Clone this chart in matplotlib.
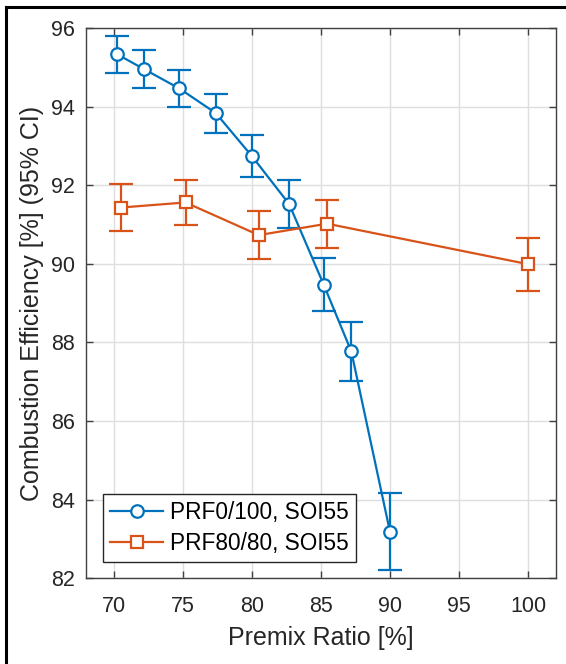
import numpy as np
import matplotlib.pyplot as plt
from matplotlib.lines import Line2D

plt.rcParams['font.family'] = ['Liberation Sans', 'DejaVu Sans']

# Dados
x_prf0 = [70.25, 72.2, 74.75, 77.4, 80.0, 82.7, 85.2, 87.2, 90.0]
y_prf0 = [95.33, 94.95, 94.46, 93.83, 92.74, 91.52, 89.47, 87.77, 83.18]
e_prf0 = [0.47, 0.48, 0.48, 0.50, 0.53, 0.60, 0.68, 0.75, 0.98]

x_prf80 = [70.5, 75.2, 80.5, 85.45, 100.0]
y_prf80 = [91.43, 91.56, 90.73, 91.02, 89.99]
e_prf80 = [0.60, 0.58, 0.62, 0.61, 0.67]

labels = ['PRF0/100, SOI55', 'PRF80/80, SOI55']
xticks = [70, 75, 80, 85, 90, 95, 100]
yticks = [82, 84, 86, 88, 90, 92, 94, 96]

blue = '#0072BD'
orange = '#D95319'

fig = plt.figure(figsize=(5.66, 6.64), dpi=100)
ax = fig.add_axes([0.152, 0.129, 0.830, 0.829])

estilo = dict(lw=1.6, mfc='white', mew=1.6, capsize=8.5, capthick=1.6,
              elinewidth=1.6, zorder=3)
ax.errorbar(x_prf0, y_prf0, yerr=e_prf0, color=blue, marker='o', ms=9,
            mec=blue, **estilo)
ax.errorbar(x_prf80, y_prf80, yerr=e_prf80, color=orange, marker='s', ms=8.5,
            mec=orange, **estilo)

ax.set_xlim(68, 102)
ax.set_ylim(82, 96)
ax.set_xticks(xticks)
ax.set_yticks(yticks)
ax.grid(True, color='#dedede', lw=1.0)
ax.set_axisbelow(True)
ax.tick_params(direction='in', top=True, right=True, length=5, width=1,
               color='#404040', labelsize=15.5, labelcolor='#262626', pad=8)
ax.tick_params(axis='x', pad=13)
for s in ax.spines.values():
    s.set_color('#404040')
    s.set_linewidth(1.0)

ax.set_xlabel('Premix Ratio [%]', fontsize=18, color='#262626', labelpad=6)
ax.set_ylabel('Combustion Efficiency [%] (95% CI)', fontsize=18,
              color='#262626', labelpad=5)

# legenda só com linha + marcador (sem barra de erro)
h = [Line2D([], [], color=blue, lw=1.6, marker='o', ms=9, mfc='white', mew=1.6),
     Line2D([], [], color=orange, lw=1.6, marker='s', ms=8.5, mfc='white', mew=1.6)]
leg = ax.legend(h, labels, loc='lower left', bbox_to_anchor=(0.037, 0.030),
                borderaxespad=0, fontsize=16.3, frameon=True, fancybox=False,
                framealpha=1, edgecolor='#262626', handlelength=2.35,
                borderpad=0.3, labelspacing=0.35, handletextpad=0.3)
leg.get_frame().set_linewidth(1.0)

# moldura externa (esquerda e topo)
fig.add_artist(Line2D([5.5 / 566, 5.5 / 566], [0, 1 - 7 / 664],
                      transform=fig.transFigure, color='black', lw=2.2))
fig.add_artist(Line2D([5.5 / 566, 1], [1 - 7 / 664, 1 - 7 / 664],
                      transform=fig.transFigure, color='black', lw=2.2))

fig.savefig('out.png', dpi=100)
